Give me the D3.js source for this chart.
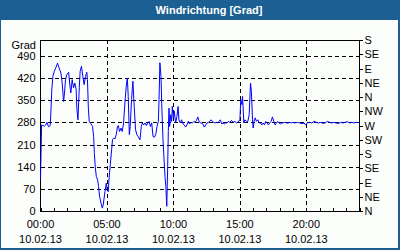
<!DOCTYPE html>
<html>
<head>
<meta charset="utf-8">
<script src="https://cdn.jsdelivr.net/npm/d3@7"></script>
<style>
  body { margin: 0; background: #fff; }
  svg { display: block; font-family: "Liberation Sans", Arial, sans-serif; }
</style>
</head>
<body>
<svg id="chart" width="400" height="250"></svg>
<script>
// time in minutes since 00:00 on 10.02.13, wind direction in degrees (0..540)
const minutes = [
  0, 5, 10, 17, 24, 29, 36, 44, 47, 51, 56, 62, 69, 77, 84, 92, 98, 104, 107, 113,
  119, 127, 133, 137, 143, 149, 155, 161, 164, 169, 175, 179, 185, 191, 197, 203, 209, 212, 216, 220,
  227, 235, 240, 243, 247, 252, 258, 262, 267, 273, 279, 283, 291, 297, 301, 306, 309, 315, 321, 325,
  330, 336, 342, 347, 351, 357, 363, 369, 375, 381, 387, 392, 396, 401, 405, 411, 417, 423, 429, 435,
  441, 449, 455, 460, 466, 472, 478, 484, 490, 496, 502, 508, 514, 520, 526, 532, 535, 539, 544, 548,
  553, 557, 562, 566, 570, 574, 577, 580, 583, 588, 592, 595, 600, 604, 610, 616, 621, 625, 631, 637,
  643, 649, 655, 661, 667, 673, 679, 685, 692, 698, 704, 710, 716, 722, 728, 734, 740, 746, 752, 758,
  764, 770, 776, 782, 788, 794, 800, 806, 812, 818, 824, 830, 836, 842, 848, 854, 862, 869, 877, 885,
  892, 900, 904, 909, 912, 918, 922, 930, 936, 942, 948, 952, 957, 960, 964, 969, 975, 981, 987, 993,
  999, 1005, 1011, 1017, 1023, 1029, 1035, 1041, 1047, 1053, 1059, 1065, 1071, 1077, 1083, 1089, 1095, 1103, 1110, 1118,
  1125, 1133, 1140, 1148, 1160, 1170, 1180, 1190, 1196, 1205, 1215, 1225, 1235, 1245, 1255, 1265, 1275, 1285, 1295, 1305,
  1315, 1325, 1335, 1345, 1355, 1365, 1375, 1385, 1395, 1405, 1415, 1425, 1435
];
const direction = [
  100, 272, 270, 268, 272, 280, 266, 270, 315, 383, 425, 441, 452, 467, 452, 436, 404, 346, 362, 415,
  431, 438, 394, 373, 415, 389, 404, 383, 325, 288, 389, 441, 457, 425, 399, 425, 438, 415, 325, 283,
  276, 267, 235, 184, 140, 109, 98, 77, 45, 25, 9, 19, 61, 88, 66, 61, 98, 146, 193, 225,
  230, 228, 241, 265, 270, 251, 262, 251, 278, 341, 394, 420, 362, 241, 267, 352, 410, 330, 257, 241,
  235, 225, 267, 278, 272, 278, 270, 278, 283, 267, 278, 235, 233, 241, 267, 283, 352, 468, 425, 320,
  225, 172, 109, 77, 15, 140, 251, 325, 267, 304, 283, 330, 294, 315, 278, 299, 330, 288, 278, 288,
  275, 272, 265, 272, 283, 275, 280, 278, 283, 280, 286, 297, 283, 278, 278, 272, 265, 272, 278, 280,
  283, 288, 283, 280, 278, 280, 278, 283, 288, 275, 278, 275, 278, 278, 283, 280, 286, 280, 283, 278,
  283, 286, 352, 336, 362, 278, 288, 283, 283, 304, 404, 378, 288, 262, 283, 294, 283, 288, 278, 278,
  272, 278, 272, 283, 278, 272, 278, 283, 297, 283, 272, 278, 283, 278, 275, 278, 278, 280, 278, 278,
  280, 278, 280, 278, 280, 278, 276, 278, 272, 278, 280, 278, 283, 280, 278, 280, 277, 278, 283, 280,
  278, 280, 278, 276, 280, 278, 280, 282, 278, 280, 278, 280, 279
];
const leftTicks = [0, 70, 140, 210, 280, 350, 420, 490];
const compassTicks = [0, 45, 90, 135, 180, 225, 270, 315, 360, 405, 450, 495, 540];
const compassNames = ["N", "NE", "E", "SE", "S", "SW", "W", "NW", "N", "NE", "E", "SE", "S"];
const hourTicks = d3.range(0, 1441, 60);
const majorTicks = [0, 300, 600, 900, 1200];
const majorTime = ["00:00", "05:00", "10:00", "15:00", "20:00"];
const majorDate = ["10.02.13", "10.02.13", "10.02.13", "10.02.13", "10.02.13"];

const frameBlue = "#1c5f93";
const svg = d3.select("#chart");

// frame and title bar
svg.append("rect").attr("width", 400).attr("height", 250).attr("fill", frameBlue);
svg.append("rect").attr("x", 1).attr("y", 20).attr("width", 397).attr("height", 228).attr("fill", "#fcfefc");
svg.append("text")
  .attr("x", 209).attr("y", 14)
  .attr("text-anchor", "middle")
  .attr("fill", "#fff")
  .attr("font-size", 11).attr("font-weight", "bold")
  .text("Windrichtung [Grad]");

const x = d3.scaleLinear().domain([0, 1440]).range([40.5, 359.5]);
const y = d3.scaleLinear().domain([0, 540]).range([211, 40]);

// dashed grid
const grid = svg.append("g").attr("stroke", "#000").attr("stroke-dasharray", "4,3").attr("shape-rendering", "crispEdges");
grid.selectAll(".h").data(leftTicks.filter(d => d > 0)).join("line")
  .attr("x1", x(0)).attr("x2", x(1440))
  .attr("y1", d => Math.round(y(d)) + 0.5).attr("y2", d => Math.round(y(d)) + 0.5);
grid.selectAll(".v").data(majorTicks.filter(d => d > 0)).join("line")
  .attr("y1", y(540)).attr("y2", y(0))
  .attr("x1", d => Math.round(x(d)) + 0.5).attr("x2", d => Math.round(x(d)) + 0.5);

// plot box
svg.append("rect")
  .attr("x", 40.5).attr("y", 40.5).attr("width", 319).attr("height", 170.5)
  .attr("fill", "none").attr("stroke", "#000").attr("shape-rendering", "crispEdges");

// left axis
const yAxis = svg.append("g").attr("transform", "translate(40.5,0)")
  .call(d3.axisLeft(y).tickValues(leftTicks).tickSize(0).tickPadding(5));
yAxis.select(".domain").remove();
yAxis.selectAll("text").attr("font-size", 11).attr("fill", "#000").attr("font-family", null);
svg.append("text").attr("x", 36).attr("y", 48.5).attr("text-anchor", "end")
  .attr("font-size", 11).text("Grad");

// right compass axis
const rAxis = svg.append("g").attr("transform", "translate(359.5,0)")
  .call(d3.axisRight(y).tickValues(compassTicks).tickSize(3).tickPadding(2)
    .tickFormat((d, i) => compassNames[i]));
rAxis.select(".domain").remove();
rAxis.selectAll("line").attr("shape-rendering", "crispEdges");
rAxis.selectAll("text").attr("font-size", 11).attr("fill", "#000").attr("font-family", null);

// bottom hour ticks
const xAxis = svg.append("g").attr("transform", "translate(0,210.5)")
  .call(d3.axisBottom(x).tickValues(hourTicks).tickSize(-3).tickFormat(""));
xAxis.select(".domain").remove();
xAxis.selectAll("line").attr("shape-rendering", "crispEdges");

const lbl = svg.append("g").attr("font-size", 11).attr("text-anchor", "middle");
lbl.selectAll(".t").data(majorTicks).join("text")
  .attr("x", d => x(d)).attr("y", 228).text((d, i) => majorTime[i]);
lbl.selectAll(".d").data(majorTicks).join("text")
  .attr("x", d => x(d)).attr("y", 243).text((d, i) => majorDate[i]);

// series
const pts = minutes.map((m, i) => [m, direction[i]]);
svg.append("path")
  .datum(pts)
  .attr("fill", "none")
  .attr("stroke", "#0000ff")
  .attr("stroke-width", 1)
  .attr("d", d3.line().x(d => x(d[0])).y(d => y(d[1])));
</script>
</body>
</html>
